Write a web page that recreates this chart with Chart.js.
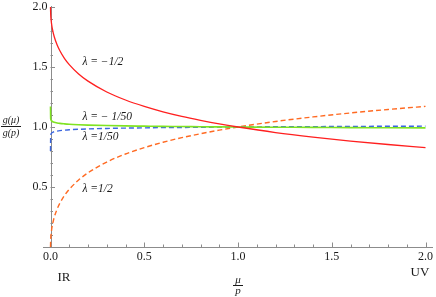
<!DOCTYPE html>
<html>
<head>
<meta charset="utf-8">
<script src="https://cdn.jsdelivr.net/npm/chart.js@4"></script>
<style>
html,body{margin:0;padding:0;background:#fff;}
canvas{display:block;}
</style>
</head>
<body>
<canvas id="c" width="436" height="297"></canvas>
<script>
// μ/p sample positions
const xs = [0, 0.001, 0.003, 0.006, 0.01, 0.02, 0.035, 0.05, 0.075, 0.1, 0.15, 0.2, 0.3, 0.4, 0.5, 0.6, 0.7, 0.8, 0.9, 1.0, 1.2, 1.4, 1.6, 1.8, 2.0];
// λ = -1/2
const redVals = [2.000, 1.939, 1.896, 1.856, 1.818, 1.752, 1.685, 1.635, 1.570, 1.520, 1.442, 1.382, 1.292, 1.225, 1.172, 1.127, 1.089, 1.056, 1.026, 1.000, 0.954, 0.916, 0.883, 0.854, 0.828];
// λ = -1/50
const greenVals = [1.170, 1.070, 1.058, 1.051, 1.046, 1.039, 1.034, 1.030, 1.026, 1.023, 1.019, 1.016, 1.012, 1.009, 1.007, 1.005, 1.004, 1.002, 1.001, 1.000, 0.998, 0.997, 0.995, 0.994, 0.993];
// λ = 1/50
const blueVals = [0.800, 0.930, 0.942, 0.949, 0.954, 0.961, 0.966, 0.970, 0.974, 0.977, 0.981, 0.984, 0.988, 0.991, 0.993, 0.995, 0.996, 0.998, 0.999, 1.000, 1.002, 1.003, 1.005, 1.006, 1.007];
// λ = 1/2
const orangeVals = [0.000, 0.061, 0.104, 0.144, 0.182, 0.248, 0.315, 0.365, 0.430, 0.480, 0.558, 0.618, 0.708, 0.775, 0.828, 0.873, 0.911, 0.944, 0.974, 1.000, 1.046, 1.084, 1.117, 1.146, 1.172];

const xMajor = [0, 0.5, 1.0, 1.5, 2.0];
const xMajorLabels = ['0.0', '0.5', '1.0', '1.5', '2.0'];
const xMinor = [0.1, 0.2, 0.3, 0.4, 0.6, 0.7, 0.8, 0.9, 1.1, 1.2, 1.3, 1.4, 1.6, 1.7, 1.8, 1.9];
const yMajor = [0.5, 1.0, 1.5, 2.0];
const yMajorLabels = ['0.5', '1.0', '1.5', '2.0'];
const yMinor = [0.1, 0.2, 0.3, 0.4, 0.6, 0.7, 0.8, 0.9, 1.1, 1.2, 1.3, 1.4, 1.6, 1.7, 1.8, 1.9];

const curveLabels = [
  {text: 'λ = −1/2', x: 0.17, y: 1.54},
  {text: 'λ = − 1/50', x: 0.17, y: 1.08},
  {text: 'λ =1/50', x: 0.17, y: 0.915},
  {text: 'λ =1/2', x: 0.17, y: 0.48}
];

const pts = vals => xs.map((x, i) => ({x: x, y: vals[i]}));

const axesPlugin = {
  id: 'axesPlugin',
  beforeDatasetsDraw(chart) {
    const ctx = chart.ctx, xS = chart.scales.x, yS = chart.scales.y;
    const x0 = xS.getPixelForValue(0), y0 = yS.getPixelForValue(0);
    ctx.save();
    ctx.strokeStyle = '#8c8c8c';
    ctx.lineWidth = 1;
    ctx.beginPath();
    ctx.moveTo(xS.left, Math.round(y0) + 0.5);
    ctx.lineTo(xS.right, Math.round(y0) + 0.5);
    ctx.moveTo(Math.round(x0) + 0.5, y0);
    ctx.lineTo(Math.round(x0) + 0.5, yS.top - 1);
    ctx.stroke();
    ctx.beginPath();
    xMajor.forEach(v => { const p = Math.round(xS.getPixelForValue(v)) + 0.5; ctx.moveTo(p, y0); ctx.lineTo(p, y0 - 4.5); });
    xMinor.forEach(v => { const p = Math.round(xS.getPixelForValue(v)) + 0.5; ctx.moveTo(p, y0); ctx.lineTo(p, y0 - 2.5); });
    yMajor.forEach(v => { const p = Math.round(yS.getPixelForValue(v)) + 0.5; ctx.moveTo(x0, p); ctx.lineTo(x0 + 4.5, p); });
    yMinor.forEach(v => { const p = Math.round(yS.getPixelForValue(v)) + 0.5; ctx.moveTo(x0, p); ctx.lineTo(x0 + 2.5, p); });
    ctx.stroke();

    ctx.fillStyle = '#1a1a1a';
    ctx.font = '12px "Liberation Serif", "DejaVu Serif", serif';
    ctx.textAlign = 'center';
    ctx.textBaseline = 'middle';
    xMajor.forEach((v, i) => ctx.fillText(xMajorLabels[i], xS.getPixelForValue(v), y0 + 10));
    ctx.textAlign = 'right';
    yMajor.forEach((v, i) => ctx.fillText(yMajorLabels[i], x0 - 3, yS.getPixelForValue(v)));

    ctx.font = '13px "Liberation Serif", serif';
    ctx.textAlign = 'center';
    ctx.fillText('IR', 64, 278);
    ctx.fillText('UV', 420, 273);

    // x axis label μ/p
    ctx.font = 'italic 11px "Liberation Serif", serif';
    const cx = xS.getPixelForValue(1.0);
    ctx.fillText('μ', cx, 280);
    ctx.fillText('p', cx, 291);
    ctx.beginPath();
    ctx.moveTo(cx - 5, 285.5); ctx.lineTo(cx + 5, 285.5);
    ctx.strokeStyle = '#1a1a1a';
    ctx.stroke();

    // y axis label g(μ)/g(p)
    ctx.font = 'italic 10px "Liberation Serif", serif';
    ctx.fillText('g(μ)', 11, 120);
    ctx.fillText('g(p)', 11, 133);
    ctx.beginPath();
    ctx.moveTo(1, 126.5); ctx.lineTo(21, 126.5);
    ctx.stroke();

    // curve labels
    ctx.font = 'italic 11.5px "Liberation Serif", serif';
    ctx.textAlign = 'left';
    curveLabels.forEach(l => ctx.fillText(l.text, xS.getPixelForValue(l.x), yS.getPixelForValue(l.y)));
    ctx.restore();
  }
};

new Chart(document.getElementById('c'), {
  type: 'scatter',
  data: {
    datasets: [
      {data: pts(redVals), borderColor: '#ff1f1f', borderWidth: 1.3, showLine: true, pointRadius: 0, cubicInterpolationMode: 'monotone', clip: false},
      {data: pts(greenVals), borderColor: '#7fe322', borderWidth: 1.6, showLine: true, pointRadius: 0, cubicInterpolationMode: 'monotone', clip: false},
      {data: pts(blueVals), borderColor: '#3b66e0', borderWidth: 1.4, borderDash: [5, 3], showLine: true, pointRadius: 0, cubicInterpolationMode: 'monotone', clip: false},
      {data: pts(orangeVals), borderColor: '#ff6a22', borderWidth: 1.4, borderDash: [5, 3], showLine: true, pointRadius: 0, cubicInterpolationMode: 'monotone', clip: false}
    ]
  },
  options: {
    responsive: false,
    animation: false,
    devicePixelRatio: 1,
    layout: {padding: {left: 43, right: 3, top: 7, bottom: 50}},
    plugins: {legend: {display: false}, tooltip: {enabled: false}},
    scales: {
      x: {type: 'linear', min: -0.04, max: 2.04, display: false},
      y: {type: 'linear', min: 0, max: 2.0, display: false}
    }
  },
  plugins: [axesPlugin]
});
</script>
</body>
</html>
